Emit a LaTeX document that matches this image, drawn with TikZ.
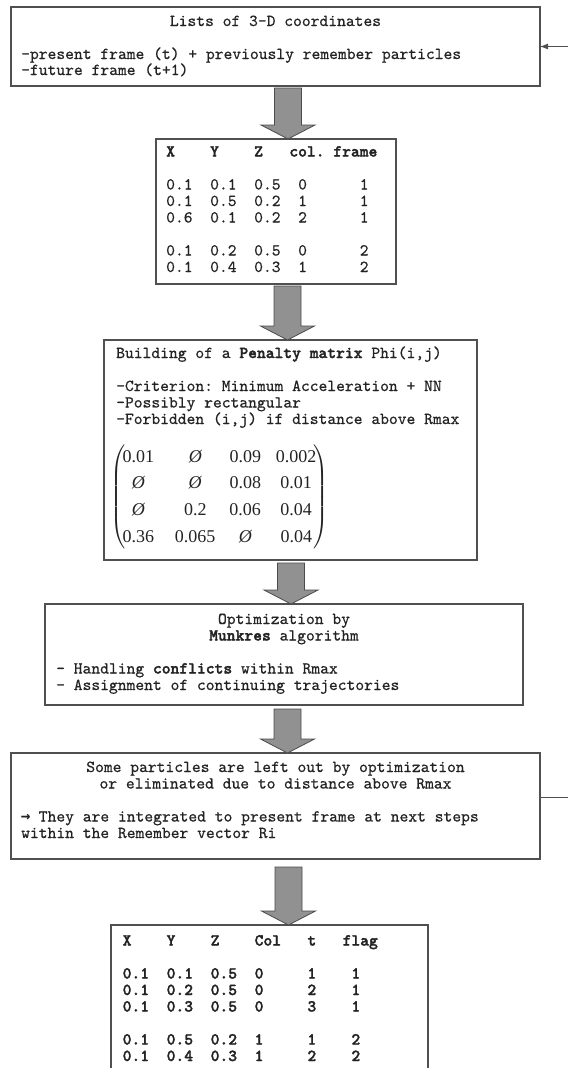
\documentclass[tikz,border=0pt]{standalone}
\usepackage{amsmath}
\usepackage{fontspec}
\setmainfont{Liberation Serif}
\newfontfamily\dvmono{DejaVu Sans Mono}
\newfontfamily\ttr{lmmono10-regular.otf}[FakeBold=0.6]
\newfontfamily\ttb{lmmonolt10-bold.otf}[FakeBold=1.8]
\usetikzlibrary{calc,arrows.meta}
\definecolor{boxc}{RGB}{80,80,80}
\definecolor{arrf}{RGB}{145,145,145}
\definecolor{arrd}{RGB}{75,75,75}
\definecolor{txt}{RGB}{35,35,35}
% block arrow: #1 from node, #2 to node, #3 coordinate giving x, #4 gap below #1
\newcommand\barrow[4]{%
  \draw[blk] ($(#1.south -| #3)+(-13.5,#4)$) -- ($(#2.north -| #3)+(-13.5,-14)$)
    -- ($(#2.north -| #3)+(-27,-14)$) -- (#2.north -| #3)
    -- ($(#2.north -| #3)+(27,-14)$) -- ($(#2.north -| #3)+(13.5,-14)$)
    -- ($(#1.south -| #3)+(13.5,#4)$) -- cycle;}
\newcommand\rarr{\makebox[8.8pt][c]{\dvmono\bfseries\fontsize{16pt}{16.5pt}\selectfont →}}
\newcommand\tb[1]{{\ttb #1}}
\begin{document}
\begin{tikzpicture}[x=1pt,y=-1pt,
  box/.style={draw=boxc, line width=1.5pt, rectangle, inner sep=0pt, outer sep=0pt},
  ln/.style={font=\ttr\fontsize{16.76pt}{16.5pt}\selectfont\frenchspacing, text=txt, inner sep=0pt, anchor=base west},
  lc/.style={ln, anchor=base},
  blk/.style={fill=arrf, draw=arrd, line width=0.8pt, line join=miter},
  fb/.style={draw=boxc, line width=0.9pt}]
\useasboundingbox (0,0) rectangle (568,1068);

% boxes
\node[box, minimum width=529pt, minimum height=79pt] (b1) at (275.5,46.5) {};
\node[box, minimum width=240pt, minimum height=145pt] (b2) at (276,211.5) {};
\node[box, minimum width=373pt, minimum height=220pt] (b3) at (290.5,450) {};
\node[box, minimum width=478pt, minimum height=101pt] (b4) at (284,654.5) {};
\node[box, minimum width=529pt, minimum height=106pt] (b5) at (275.5,806) {};
\node[inner sep=0pt, outer sep=0pt, minimum width=317pt, minimum height=143pt] (b6) at (269.5,996.5) {};
\draw[draw=boxc, line width=1.5pt] (b6.south west) -- (b6.north west) -- (b6.north east) -- (b6.south east);

% box 1
\node[lc] (t1a) at (275.5,26) {Lists of 3-D coordinates};
\node[ln] (t1b) at (21,59) {-present frame (t) + previously remember particles};
\node[ln] (t1c) at (21,75) {-future frame (t+1)};

% box 2
\node[ln] (t2h) at (166,156.5) {\tb{X~~~~Y~~~~Z~~~col.~frame}};
\node[ln] (t2a) at (166,189.5) {0.1~~0.1~~0.5~~0~~~~~~1};
\node[ln] (t2b) at (166,206) {0.1~~0.5~~0.2~~1~~~~~~1};
\node[ln] (t2c) at (166,222.5) {0.6~~0.1~~0.2~~2~~~~~~1};
\node[ln] (t2d) at (166,255.5) {0.1~~0.2~~0.5~~0~~~~~~2};
\node[ln] (t2e) at (166,272) {0.1~~0.4~~0.3~~1~~~~~~2};

% box 3
\node[ln] (t3a) at (116,358) {Building of a \tb{Penalty matrix} Phi(i,j)};
\node[ln] (t3b) at (116,391) {-Criterion: Minimum Acceleration + NN};
\node[ln] (t3c) at (116,407.5) {-Possibly rectangular};
\node[ln] (t3d) at (116,424) {-Forbidden (i,j) if distance above Rmax};
\node[inner sep=0pt, text=txt] (mx) at (219.5,496.7) {\fontsize{18pt}{21.6pt}\selectfont
  \renewcommand\arraystretch{1.236}%
  $\left(\!\begin{array}{@{}c@{\hspace{21pt}}c@{\hspace{14pt}}c@{\hspace{15pt}}c@{}}
  \text{0.01} & \text{\itshape Ø} & \text{0.09} & \text{0.002}\\
  \text{\itshape Ø} & \text{\itshape Ø} & \text{0.08} & \text{0.01}\\
  \text{\itshape Ø} & \text{0.2} & \text{0.06} & \text{0.04}\\
  \text{0.36} & \text{0.065} & \text{\itshape Ø} & \text{0.04}
  \end{array}\!\right)$};

% box 4
\node[lc] (t4a) at (284,624) {Optimization by};
\node[lc] (t4b) at (284,640.5) {\tb{Munkres} algorithm};
\node[ln] (t4c) at (56,673.5) {- Handling \tb{conflicts} within Rmax};
\node[ln] (t4d) at (56,690) {- Assignment of continuing trajectories};

% box 5
\node[lc] (t5a) at (275.5,772) {Some particles are left out by optimization};
\node[lc] (t5b) at (275.5,788.5) {or eliminated due to distance above Rmax};
\node[ln] (t5c) at (21,821.5) {\rarr{} They are integrated to present frame at next steps};
\node[ln] (t5d) at (21,838) {within the Remember vector Ri};

% box 6
\node[ln] (t6h) at (122.5,945.5) {\tb{X~~~~Y~~~~Z~~~~Col~~~t~~~flag}};
\node[ln] (t6a) at (122.5,978.5) {\tb{0.1~~0.1~~0.5~~0~~~~~1~~~~1}};
\node[ln] (t6b) at (122.5,995) {\tb{0.1~~0.2~~0.5~~0~~~~~2~~~~1}};
\node[ln] (t6c) at (122.5,1011.5) {\tb{0.1~~0.3~~0.5~~0~~~~~3~~~~1}};
\node[ln] (t6d) at (122.5,1044.5) {\tb{0.1~~0.5~~0.2~~1~~~~~1~~~~2}};
\node[ln] (t6e) at (122.5,1061) {\tb{0.1~~0.4~~0.3~~1~~~~~2~~~~2}};

% block arrows
\coordinate (xa) at (288,0);
\coordinate (xb) at (287.5,0);
\coordinate (xc) at (291,0);
\coordinate (xd) at (287.5,0);
\coordinate (xe) at (288.5,0);
\barrow{b1}{b2}{xa}{2}
\barrow{b2}{b3}{xb}{2}
\barrow{b3}{b4}{xc}{3}
\barrow{b4}{b5}{xd}{4}
\barrow{b5}{b6}{xe}{8}

% feedback connector
\coordinate (r5) at (568,797);
\coordinate (r1) at (568,46.5);
\draw[fb] ($(b5.east)+(0,-9)$) -- (r5);
\draw[fb, -{Latex[length=8pt,width=6pt]}] (r1) -- (b1.east);
\end{tikzpicture}
\end{document}
